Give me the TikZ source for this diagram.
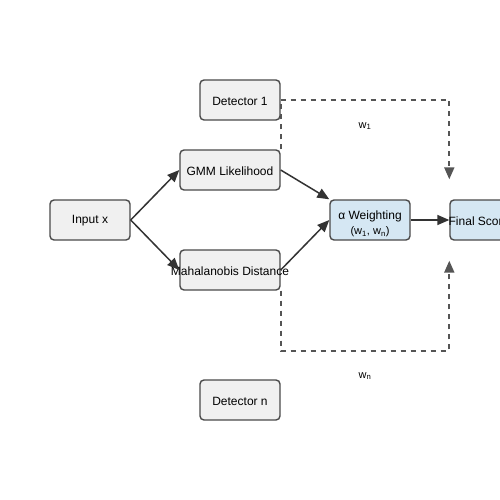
\documentclass[tikz,border=0pt]{standalone}
\usepackage{fontspec}
\setmainfont{Liberation Sans}
\usetikzlibrary{arrows.meta,backgrounds,calc}
\definecolor{boxfill}{HTML}{F0F0F0}
\definecolor{boxline}{HTML}{4A4A4A}
\definecolor{bluefill}{HTML}{D5E7F3}
\definecolor{dashcol}{HTML}{555555}
\definecolor{arrcol}{HTML}{333333}
\begin{document}
\begin{tikzpicture}[x=1pt,y=-1pt,
  box/.style={draw=boxline, fill=boxfill, line width=1.4pt, rounded corners=4pt,
    minimum width=80pt, minimum height=40pt, inner sep=0pt},
  widebox/.style={box, minimum width=100pt},
  bluebox/.style={box, fill=bluefill},
  txt/.style={font=\fontsize{12}{14}\selectfont, inner sep=0pt},
  smalltxt/.style={font=\fontsize{11}{13}\selectfont, inner sep=0pt},
  conn/.style={draw=arrcol, line width=1.5pt, -{Triangle[length=12pt,width=10pt]}},
  dconn/.style={draw=dashcol, line width=1.8pt, dash pattern=on 5pt off 5pt,
    -{Triangle[length=12pt,width=10pt]}},
  dline/.style={draw=dashcol, line width=1.8pt, dash pattern=on 5pt off 5pt}
]
\clip (0,0) rectangle (500,500);

\node[box] (d1) at (240,100) {};
\node[txt] (d1t) at (240,101) {Detector 1};
\node[widebox] (gmm) at (230,170) {};
\node[txt] (gmmt) at (230,171) {GMM Likelihood};
\node[box] (inp) at (90,220) {};
\node[txt] (inpt) at (90,221) {Input x};
\node[widebox] (mah) at (230,270) {};
\node[txt] (maht) at (230,271) {Mahalanobis Distance};
\node[bluebox] (alpha) at (370,220) {};
\node[txt] (alphat1) at (370,216) {α Weighting};
\node[smalltxt] (alphat2) at (370,232) {(w\textsubscript{1}, w\textsubscript{n})};
\node[bluebox] (fs) at (490,220) {};
\node[txt] (fst) at (479,221) {Final Score};
\node[box] (dn) at (240,400) {};
\node[txt] (dnt) at (240,401) {Detector n};

\node[smalltxt] (w1) at (365,126) {w\textsubscript{1}};
\node[smalltxt] (wn) at (365,376) {w\textsubscript{n}};

\coordinate (topend) at ($(fs.north west)+(0,-20)$);
\coordinate (botend) at ($(fs.south west)+(0,20)$);

\begin{scope}[on background layer]
  \fill[white] (0,0) rectangle (500,500);
  \draw[dline] (gmm.north east) -- (d1.east);
  \draw[dconn] (d1.east) -| (topend);
  \draw[dconn] (mah.south east) -- ++(0,60) -| (botend);
\end{scope}

\draw[conn] (inp.east) -- (gmm.west);
\draw[conn] (inp.east) -- (mah.west);
\draw[conn] (gmm.east) -- (alpha.north west);
\draw[conn] (mah.east) -- (alpha.west);
\draw[conn] (alpha.east) -- (fs.west);
\end{tikzpicture}
\end{document}
